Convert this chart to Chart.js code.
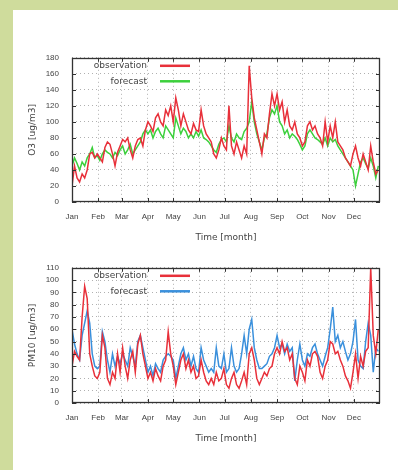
<!DOCTYPE html>
<html>
<head>
<meta charset="utf-8">
<script src="https://cdn.jsdelivr.net/npm/chart.js@4.4.1/dist/chart.umd.min.js"></script>
<style>
html,body{margin:0;padding:0;}
body{width:398px;height:470px;background:#cfdc9c;position:relative;overflow:hidden;}
#panel{position:absolute;left:13px;top:10px;width:385px;height:460px;background:#fff;}
.box{position:absolute;left:13px;width:385px;}
#b1{top:40px;height:210px;}
#b2{top:250px;height:201px;}
</style>
</head>
<body>
<div id="panel"></div>
<div class="box" id="b1"><canvas id="c1" width="385" height="210"></canvas></div>
<div class="box" id="b2"><canvas id="c2" width="385" height="201"></canvas></div>
<script>
// sample days (day of year)
const days = [0,3,6,9,12,15,18,21,24,27,30,
  33,36,39,42,45,48,51,54,57,
  60,63,66,69,72,75,78,81,84,87,
  90,93,96,99,102,105,108,111,114,117,
  120,123,126,129,132,135,138,141,144,147,150,
  153,156,159,162,165,168,171,174,177,180,
  183,186,189,192,195,198,201,204,207,210,
  213,216,219,222,225,228,231,234,237,240,
  243,246,249,252,255,258,261,264,267,270,273,
  276,279,282,285,288,291,294,297,300,303,
  306,309,312,315,318,321,324,327,330,333,
  336,339,342,345,348,351,354,357,360,363];

const monthStarts = [0,31,59,90,120,151,181,212,243,273,304,334];
const monthLabels = ['Jan','Feb','Mar','Apr','May','Jun','Jul','Aug','Sep','Oct','Nov','Dec'];

const o3Obs = [20,45,30,25,35,30,40,60,62,55,60,
  55,50,68,75,72,60,45,62,70,
  78,75,80,65,55,70,78,80,70,90,
  100,95,88,105,110,100,95,115,108,120,
  100,130,115,95,110,100,90,85,98,90,88,
  115,95,85,80,75,60,55,65,80,70,
  65,120,70,60,75,65,55,70,60,170,
  130,105,90,75,60,85,80,110,135,120,
  135,115,125,100,115,95,90,100,85,80,70,
  75,95,100,90,95,85,80,70,100,75,
  95,80,100,75,70,65,55,50,45,60,
  70,55,45,60,50,40,70,50,35,40];

const o3Fc = [45,55,48,40,50,45,55,60,68,55,58,
  52,60,65,62,60,55,62,58,65,
  70,60,65,72,60,65,70,75,85,90,
  85,90,80,88,92,85,80,95,90,85,
  80,105,95,85,92,88,80,85,80,88,82,
  90,80,78,75,70,65,62,72,78,80,
  75,95,80,75,85,80,78,88,92,100,
  125,100,85,75,65,80,85,105,115,110,
  120,100,95,85,90,80,85,82,78,72,65,
  70,85,90,85,80,78,75,72,80,70,
  80,75,78,70,65,60,55,50,45,40,
  20,35,50,55,48,42,55,45,30,45];

const pmObs = [30,42,38,35,70,95,85,40,30,22,20,
  25,55,45,20,15,25,20,40,25,
  45,30,20,35,42,25,48,55,40,30,
  20,25,18,28,22,18,30,35,58,40,
  30,15,25,35,40,28,35,25,30,20,22,
  35,25,18,15,20,15,25,18,20,28,
  15,12,20,25,15,12,18,25,15,40,
  45,35,20,15,20,25,22,28,30,40,
  45,40,50,42,45,35,40,20,15,30,25,
  18,35,30,40,42,38,25,20,30,35,
  50,48,40,42,35,30,22,18,12,25,
  40,20,38,30,42,45,110,55,40,60];

const pmFc = [60,48,40,35,55,65,75,65,40,30,28,
  30,58,50,35,25,40,30,38,32,
  40,35,30,45,38,30,50,55,45,35,
  25,30,22,32,28,25,35,38,40,38,
  35,20,30,40,45,35,40,30,38,28,25,
  45,35,30,25,28,25,45,30,28,40,
  25,28,45,30,25,28,40,55,40,60,
  68,45,35,28,28,30,32,38,40,45,
  55,45,48,40,48,42,45,18,35,48,35,
  30,40,38,45,48,40,35,30,38,45,
  60,78,50,55,45,50,42,35,40,50,
  68,35,30,28,50,65,55,25,45,42];

Chart.defaults.font.family = "'Liberation Sans', Arial, sans-serif";
Chart.defaults.font.size = 8;
Chart.defaults.color = '#444';
const titleFont = {family: "'DejaVu Sans', sans-serif", size: 9};

const framePlugin = {
  id: 'frame',
  afterDatasetsDraw(chart) {
    const {ctx, chartArea: a, scales: {x, y}} = chart;
    ctx.save();
    ctx.strokeStyle = '#333';
    ctx.lineWidth = 1;
    ctx.beginPath();
    x.ticks.forEach(t => {
      const px = Math.round(x.getPixelForValue(t.value)) + 0.5;
      ctx.moveTo(px, a.bottom); ctx.lineTo(px, a.bottom - 4);
      ctx.moveTo(px, a.top); ctx.lineTo(px, a.top + 4);
    });
    y.ticks.forEach(t => {
      const py = Math.round(y.getPixelForValue(t.value)) + 0.5;
      ctx.moveTo(a.left, py); ctx.lineTo(a.left + 4, py);
      ctx.moveTo(a.right, py); ctx.lineTo(a.right - 4, py);
    });
    ctx.stroke();
    ctx.lineWidth = 1.3;
    ctx.strokeRect(Math.round(a.left) + 0.5, Math.round(a.top) + 0.5, Math.round(a.right - a.left) - 1, Math.round(a.bottom - a.top) - 1);
    ctx.restore();
  }
};

const legendPlugin = {
  id: 'inlegend',
  afterDraw(chart) {
    const {ctx, chartArea: a} = chart;
    ctx.save();
    ctx.font = "9px 'DejaVu Sans', sans-serif";
    ctx.textAlign = 'right';
    ctx.textBaseline = 'middle';
    chart.data.datasets.forEach((ds, i) => {
      const yy = a.top + 8 + i * 15.5;
      ctx.fillStyle = '#444';
      ctx.fillText(ds.label, a.left + 75, yy);
      ctx.strokeStyle = ds.borderColor;
      ctx.lineWidth = 2.5;
      ctx.beginPath();
      ctx.moveTo(a.left + 88, yy);
      ctx.lineTo(a.left + 118, yy);
      ctx.stroke();
    });
    ctx.restore();
  }
};

function makeChart(id, topPad, obs, fc, fcColor, yMax, yStep, yTitle) {
  return new Chart(document.getElementById(id), {
    type: 'line',
    data: {
      datasets: [
        {label: 'observation', data: days.map((d, i) => ({x: d, y: obs[i]})), borderColor: '#e8303a', borderWidth: 1.5, pointRadius: 0, tension: 0},
        {label: 'forecast', data: days.map((d, i) => ({x: d, y: fc[i]})), borderColor: fcColor, borderWidth: 1.5, pointRadius: 0, tension: 0}
      ]
    },
    options: {
      responsive: false,
      animation: false,
      events: [],
      layout: {padding: {left: 0, right: 18, top: topPad, bottom: 0}},
      plugins: {legend: {display: false}, tooltip: {enabled: false}},
      scales: {
        x: {
          type: 'linear', min: 0, max: 365,
          afterBuildTicks: s => { s.ticks = monthStarts.map(v => ({value: v})); },
          afterFit: s => { s.height = 48; },
          ticks: {callback: v => monthLabels[monthStarts.indexOf(v)], maxRotation: 0, autoSkip: false, padding: 10, color: '#444'},
          grid: {color: '#b0b0b0', lineWidth: 1, drawTicks: false},
          border: {display: false, dash: [1, 3]},
          title: {display: true, text: 'Time [month]', color: '#444', font: titleFont, padding: {top: 4, bottom: 7}}
        },
        y: {
          min: 0, max: yMax,
          afterBuildTicks: s => { const t = []; for (let v = 0; v <= yMax; v += yStep) t.push({value: v}); s.ticks = t; },
          afterFit: s => { s.width = 59; },
          ticks: {padding: 13, color: '#444', autoSkip: false},
          grid: {color: '#b0b0b0', lineWidth: 1, drawTicks: false},
          border: {display: false, dash: [1, 3]},
          title: {display: true, text: yTitle, color: '#444', font: titleFont, padding: {top: 14, bottom: 0}}
        }
      }
    },
    plugins: [framePlugin, legendPlugin]
  });
}

makeChart('c1', 16, o3Obs, o3Fc, '#3cd03c', 180, 20, 'O3 [ug/m3]');
makeChart('c2', 7, pmObs, pmFc, '#3a90dc', 110, 10, 'PM10 [ug/m3]');
</script>
</body>
</html>
